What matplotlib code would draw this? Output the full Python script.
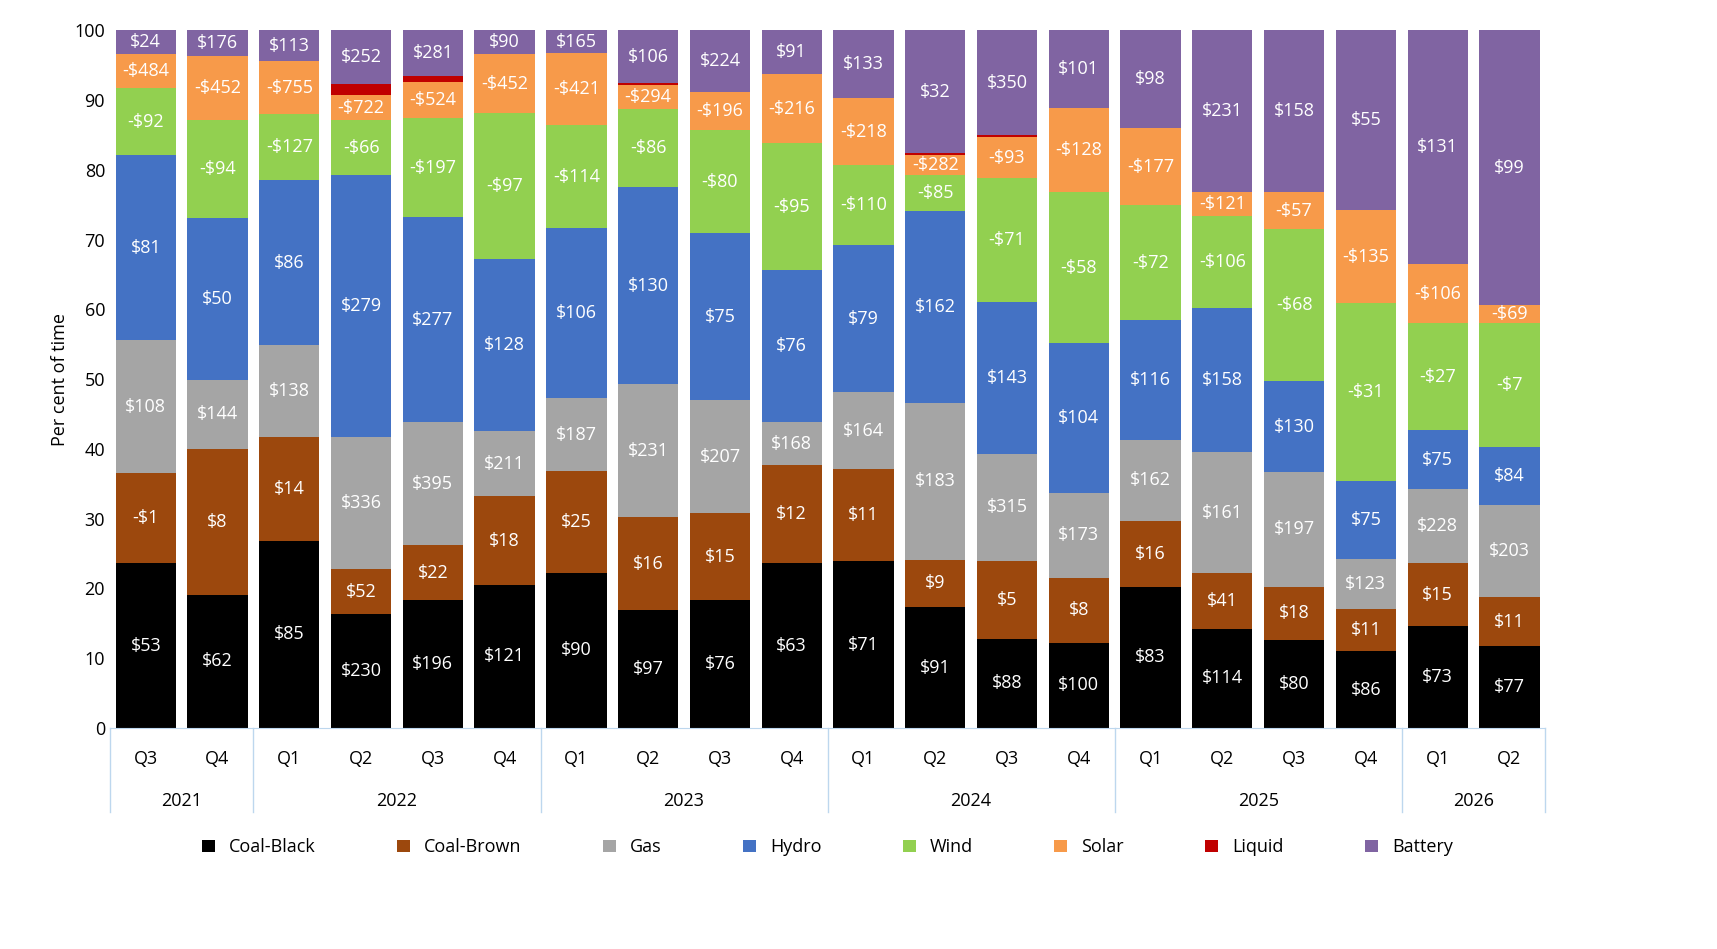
import matplotlib
matplotlib.use("Agg")
import matplotlib.pyplot as plt
import numpy as np

plt.rcParams['font.family'] = ['Open Sans', 'DejaVu Sans']

quarters = ["Q3","Q4","Q1","Q2","Q3","Q4","Q1","Q2","Q3","Q4","Q1","Q2","Q3","Q4","Q1","Q2","Q3","Q4","Q1","Q2"]
years = ["2021","2022","2023","2024","2025","2026"]
year_counts = [2,4,4,4,4,2]
series = ["Coal-Black","Coal-Brown","Gas","Hydro","Wind","Solar","Liquid","Battery"]
colors = ["#000000","#9C480D","#A5A5A5","#4472C4","#92D050","#F79A4A","#C00000","#8064A2"]

# cumulative tops (per cent of time) per bar: black, brown, gas, hydro, wind, solar, liquid, battery
cum = [
 [23.6,36.5,55.6,82.1,91.7,96.6,96.6,100],
 [19.1,40.0,49.9,73.1,87.2,96.3,96.3,100],
 [26.8,41.7,54.9,78.5,88.0,95.6,95.6,100],
 [16.3,22.8,41.7,79.2,87.1,90.7,92.3,100],
 [18.3,26.2,43.8,73.2,87.4,92.6,93.4,100],
 [20.5,33.2,42.6,67.2,88.1,96.6,96.6,100],
 [22.2,36.8,47.3,71.6,86.4,96.7,96.7,100],
 [16.9,30.2,49.3,77.5,88.7,92.1,92.4,100],
 [18.3,30.8,47.0,70.9,85.7,91.1,91.1,100],
 [23.6,37.7,43.8,65.6,83.8,93.7,93.7,100],
 [23.9,37.1,48.1,69.2,80.7,90.3,90.3,100],
 [17.3,24.1,46.6,74.1,79.2,82.1,82.4,100],
 [12.8,23.9,39.3,61.0,78.8,84.7,85.0,100],
 [12.2,21.5,33.7,55.2,76.8,88.8,88.8,100],
 [20.2,29.7,41.3,58.5,74.9,86.0,86.0,100],
 [14.2,22.2,39.5,60.2,73.4,76.8,76.8,100],
 [12.6,20.2,36.7,49.7,71.5,76.8,76.8,100],
 [11.0,17.0,24.2,35.4,60.9,74.2,74.2,100],
 [14.6,23.6,34.2,42.7,58.0,66.5,66.5,100],
 [11.7,18.8,31.9,40.3,58.0,60.6,60.6,100],
]
prices_black = [53,62,85,230,196,121,90,97,76,63,71,91,88,100,83,114,80,86,73,77]
prices_brown = [-1,8,14,52,22,18,25,16,15,12,11,9,5,8,16,41,18,11,15,11]
prices_gas = [108,144,138,336,395,211,187,231,207,168,164,183,315,173,162,161,197,123,228,203]
prices_hydro = [81,50,86,279,277,128,106,130,75,76,79,162,143,104,116,158,130,75,75,84]
prices_wind = [-92,-94,-127,-66,-197,-97,-114,-86,-80,-95,-110,-85,-71,-58,-72,-106,-68,-31,-27,-7]
prices_solar = [-484,-452,-755,-722,-524,-452,-421,-294,-196,-216,-218,-282,-93,-128,-177,-121,-57,-135,-106,-69]
prices_battery = [24,176,113,252,281,90,165,106,224,91,133,32,350,101,98,231,158,55,131,99]
prices = [prices_black,prices_brown,prices_gas,prices_hydro,prices_wind,prices_solar,None,prices_battery]

cum = np.array(cum)
heights = np.diff(np.hstack([np.zeros((len(cum),1)), cum]), axis=1)
x = np.arange(len(quarters))

fig = plt.figure(figsize=(17.17, 9.49), dpi=100)
ax = fig.add_axes([0.064, 0.233, 0.836, 0.735])
bottom = np.zeros(len(x))
for j, name in enumerate(series):
    ax.bar(x, heights[:, j], bottom=bottom, width=0.84, color=colors[j], label=name)
    if prices[j] is not None:
        for i in x:
            if heights[i, j] > 1.5:
                v = prices[j][i]
                s = f"-${-v}" if v < 0 else f"${v}"
                ax.text(i, bottom[i] + heights[i, j] / 2, s, ha='center', va='center',
                        color='white', fontsize=13)
    bottom += heights[:, j]

ax.set_xlim(-0.5, len(x) - 0.5)
ax.set_ylim(0, 100)
ax.set_yticks(range(0, 101, 10))
ax.tick_params(axis='y', length=0, labelsize=13)
ax.set_xticks([])
ax.set_ylabel("Per cent of time", fontsize=13)
for s in ['top', 'right', 'left']:
    ax.spines[s].set_visible(False)
ax.spines['bottom'].set_color('#BDD7EE')

tr = ax.get_xaxis_transform()
lc = '#BDD7EE'
for i, q in enumerate(quarters):
    ax.text(i, -0.045, q, transform=tr, ha='center', va='center', fontsize=13)
pos = -0.5
ax.plot([pos, pos], [0, -0.12], transform=tr, color=lc, lw=1, clip_on=False)
for yname, n in zip(years, year_counts):
    ax.text(pos + n / 2, -0.105, yname, transform=tr, ha='center', va='center', fontsize=13)
    pos += n
    ax.plot([pos, pos], [0, -0.12], transform=tr, color=lc, lw=1, clip_on=False)

ax.legend(loc='upper center', bbox_to_anchor=(0.5, -0.135), ncol=8, frameon=False,
          fontsize=13, handlelength=0.7, handleheight=0.7, columnspacing=4.5)
fig.savefig("out.png", dpi=100)
